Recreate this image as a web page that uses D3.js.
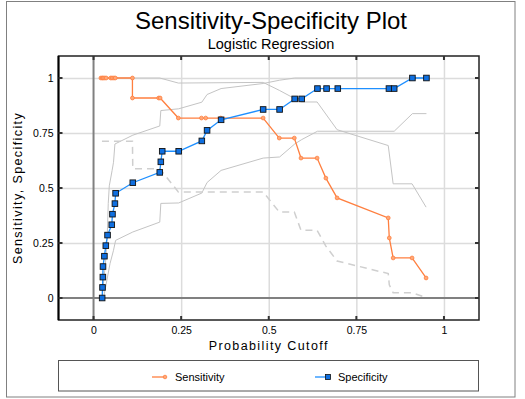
<!DOCTYPE html>
<html><head><meta charset="utf-8">
<script src="https://cdn.jsdelivr.net/npm/d3@7"></script>
<style>body{margin:0;background:#fff}svg{display:block}text{font-family:"Liberation Sans",Arial,sans-serif;fill:#000}</style>
</head><body><svg id="c" width="525" height="399"></svg>
<script>
// ---- data ----
const titleText = "Sensitivity-Specificity Plot";
const subtitleText = "Logistic Regression";
const xTitle = "Probability Cutoff";
const yTitle = "Sensitivity, Specificity";
const tickValues = [0, 0.25, 0.5, 0.75, 1];
const tickLabels = ["0", "0.25", "0.5", "0.75", "1"];
const seriesNames = ["Sensitivity", "Specificity"];

const sensX = [0.021, 0.025, 0.028, 0.032, 0.036, 0.049, 0.053, 0.058, 0.062, 0.111, 0.111, 0.186, 0.19, 0.242, 0.308, 0.32, 0.363, 0.484, 0.530, 0.573, 0.592, 0.638, 0.663, 0.695, 0.841, 0.844, 0.855, 0.909, 0.949];
const sensY = [1, 1, 1, 1, 1, 1, 1, 1, 1, 1, 0.909, 0.909, 0.909, 0.818, 0.818, 0.818, 0.818, 0.818, 0.727, 0.727, 0.636, 0.636, 0.545, 0.455, 0.364, 0.273, 0.182, 0.182, 0.091];

const specX = [0.0246, 0.0256, 0.0266, 0.027, 0.031, 0.035, 0.040, 0.052, 0.054, 0.061, 0.063, 0.112, 0.189, 0.192, 0.196, 0.243, 0.309, 0.324, 0.364, 0.484, 0.531, 0.574, 0.594, 0.639, 0.665, 0.697, 0.843, 0.858, 0.910, 0.950];
const specY = [0, 0.048, 0.095, 0.143, 0.19, 0.238, 0.286, 0.333, 0.381, 0.429, 0.476, 0.524, 0.571, 0.619, 0.667, 0.667, 0.714, 0.762, 0.81, 0.857, 0.857, 0.905, 0.905, 0.952, 0.952, 0.952, 0.952, 0.952, 1, 1];

// confidence bounds
const sensUpX = [0.021, 0.189, 0.242, 0.484, 0.530, 0.592, 0.638, 0.695, 0.841, 0.855, 0.909, 0.949];
const sensUpY = [1, 1, 0.977, 0.98, 0.944, 0.891, 0.891, 0.765, 0.693, 0.519, 0.519, 0.413];
const sensLoX = [0.024, 0.111, 0.112, 0.189, 0.242, 0.484, 0.530, 0.573, 0.592, 0.638, 0.663, 0.695, 0.841, 0.844, 0.855, 0.909, 0.949];
const sensLoY = [0.712, 0.712, 0.588, 0.588, 0.482, 0.482, 0.391, 0.391, 0.308, 0.308, 0.236, 0.168, 0.111, 0.06, 0.024, 0.024, 0.002];
const specUpX = [0.0246, 0.030, 0.034, 0.039, 0.042, 0.045, 0.053, 0.057, 0.061, 0.112, 0.189, 0.192, 0.243, 0.309, 0.324, 0.364, 0.484, 0.531, 0.574, 0.950];
const specUpY = [0, 0.096, 0.156, 0.277, 0.43, 0.51, 0.58, 0.617, 0.70, 0.74, 0.782, 0.852, 0.86, 0.89, 0.925, 0.952, 0.975, 0.99, 1, 1];
const specLoX = [0.0285, 0.038, 0.047, 0.057, 0.063, 0.112, 0.189, 0.192, 0.243, 0.309, 0.324, 0.364, 0.484, 0.531, 0.574, 0.594, 0.639, 0.697, 0.858, 0.910, 0.950];
const specLoY = [0, 0.08, 0.156, 0.217, 0.262, 0.30, 0.345, 0.43, 0.432, 0.477, 0.525, 0.58, 0.636, 0.641, 0.70, 0.72, 0.758, 0.758, 0.758, 0.838, 0.838];

// ---- layout ----
const P = {l: 58.5, r: 479, t: 56, b: 320};
const svg = d3.select("#c");
const x = d3.scaleLinear().domain([-0.1, 1.1]).range([P.l, P.r]);
const y = d3.scaleLinear().domain([-0.1, 1.1]).range([P.b, P.t]);
const zip = (a, b) => a.map((v, i) => [v, b[i]]);
const line = d3.line().x(d => x(d[0])).y(d => y(d[1]));

// outer frame
svg.append("rect").attr("x", 6.5).attr("y", 1.5).attr("width", 508.5).attr("height", 395.5)
  .attr("fill", "#fff").attr("stroke", "#808080").attr("stroke-width", 1);

// title
svg.append("text").attr("x", 271).attr("y", 29).attr("text-anchor", "middle")
  .attr("font-size", 24).text(titleText);
svg.append("text").attr("x", 271).attr("y", 48.5).attr("text-anchor", "middle")
  .attr("font-size", 14.5).text(subtitleText);

// grid
const gridVals = tickValues.filter(v => v !== 0);
svg.append("g").attr("transform", `translate(0,${P.b})`)
  .call(d3.axisBottom(x).tickValues(gridVals).tickSize(-(P.b - P.t)).tickFormat(""))
  .call(g => { g.select(".domain").remove(); g.selectAll("line").attr("stroke", "#dcdcdc").attr("stroke-width", 1.5); });
svg.append("g").attr("transform", `translate(${P.l},0)`)
  .call(d3.axisLeft(y).tickValues(gridVals).tickSize(-(P.r - P.l)).tickFormat(""))
  .call(g => { g.select(".domain").remove(); g.selectAll("line").attr("stroke", "#dcdcdc").attr("stroke-width", 1.5); });
// zero lines
svg.append("line").attr("x1", x(0)).attr("x2", x(0)).attr("y1", P.t).attr("y2", P.b)
  .attr("stroke", "#808080").attr("stroke-width", 2);
svg.append("line").attr("x1", P.l).attr("x2", P.r).attr("y1", y(0)).attr("y2", y(0))
  .attr("stroke", "#808080").attr("stroke-width", 2);

// confidence bounds
const ci = svg.append("g").attr("fill", "none");
ci.append("path").attr("d", line(zip(sensUpX, sensUpY))).attr("stroke", "#c4c4c4").attr("stroke-width", 1);
ci.append("path").attr("d", line(zip(specUpX, specUpY))).attr("stroke", "#c4c4c4").attr("stroke-width", 1);
ci.append("path").attr("d", line(zip(specLoX, specLoY))).attr("stroke", "#c4c4c4").attr("stroke-width", 1);
ci.append("path").attr("d", line(zip(sensLoX, sensLoY))).attr("stroke", "#cfcfcf").attr("stroke-width", 1.5)
  .attr("stroke-dasharray", "7,5");

// sensitivity
const sensCol = "#ff7f3f";
svg.append("path").attr("d", line(zip(sensX, sensY))).attr("fill", "none").attr("stroke", sensCol).attr("stroke-width", 1.3);
svg.append("g").selectAll("circle").data(zip(sensX, sensY)).join("circle")
  .attr("cx", d => x(d[0])).attr("cy", d => y(d[1])).attr("r", 1.9)
  .attr("fill", "#ffa878").attr("stroke", sensCol).attr("stroke-width", 0.8);

// specificity
const specCol = "#1e8fff";
svg.append("path").attr("d", line(zip(specX, specY))).attr("fill", "none").attr("stroke", specCol).attr("stroke-width", 1.3);
svg.append("g").selectAll("rect").data(zip(specX, specY)).join("rect")
  .attr("x", d => x(d[0]) - 2.8).attr("y", d => y(d[1]) - 2.8).attr("width", 5.6).attr("height", 5.6)
  .attr("fill", "#0f6fe0").attr("stroke", "#111").attr("stroke-width", 0.9);

// plot border
svg.append("rect").attr("x", P.l).attr("y", P.t).attr("width", P.r - P.l).attr("height", P.b - P.t)
  .attr("fill", "none").attr("stroke", "#222").attr("stroke-width", 1.5);
svg.append("line").attr("x1", P.l).attr("x2", P.l).attr("y1", P.t).attr("y2", P.b).attr("stroke", "#000").attr("stroke-width", 2);

// inner ticks on frame
const tk = svg.append("g").attr("stroke", "#333").attr("stroke-width", 2);
tickValues.forEach(v => {
  tk.append("line").attr("x1", x(v)).attr("x2", x(v)).attr("y1", P.t).attr("y2", P.t + 4);
  tk.append("line").attr("x1", x(v)).attr("x2", x(v)).attr("y1", P.b).attr("y2", P.b - 4);
  tk.append("line").attr("x1", P.l).attr("x2", P.l + 4).attr("y1", y(v)).attr("y2", y(v));
  tk.append("line").attr("x1", P.r).attr("x2", P.r - 4).attr("y1", y(v)).attr("y2", y(v));
});

// tick labels via axes
svg.append("g").attr("transform", `translate(0,${P.b})`)
  .call(d3.axisBottom(x).tickValues(tickValues).tickSize(0).tickPadding(7).tickFormat((d, i) => tickLabels[i]))
  .call(g => { g.select(".domain").remove(); g.selectAll("text").attr("font-size", 10.5).attr("font-family", null).attr("fill", "#000"); });
svg.append("g").attr("transform", `translate(${P.l},0)`)
  .call(d3.axisLeft(y).tickValues(tickValues).tickSize(0).tickPadding(5).tickFormat((d, i) => tickLabels[i]))
  .call(g => { g.select(".domain").remove(); g.selectAll("text").attr("font-size", 10.5).attr("font-family", null).attr("fill", "#000"); });

// axis titles
svg.append("text").attr("x", (P.l + P.r) / 2).attr("y", 350).attr("text-anchor", "middle")
  .attr("font-size", 12.5).attr("letter-spacing", 1.4).text(xTitle);
svg.append("text").attr("transform", `translate(22,${(P.t + P.b) / 2}) rotate(-90)`).attr("text-anchor", "middle")
  .attr("font-size", 12.5).attr("letter-spacing", 1.4).text(yTitle);

// legend
svg.append("rect").attr("x", 58.5).attr("y", 360.5).attr("width", 420).attr("height", 30.5)
  .attr("fill", "#fff").attr("stroke", "#555").attr("stroke-width", 1);
const ly = 377;
svg.append("line").attr("x1", 152).attr("x2", 165).attr("y1", ly).attr("y2", ly).attr("stroke", sensCol).attr("stroke-width", 1.3);
svg.append("circle").attr("cx", 165).attr("cy", ly).attr("r", 1.8).attr("fill", "#ffa878").attr("stroke", sensCol).attr("stroke-width", 0.8);
svg.append("text").attr("x", 175).attr("y", 381).attr("font-size", 11).text(seriesNames[0]);
svg.append("line").attr("x1", 315).attr("x2", 328).attr("y1", ly).attr("y2", ly).attr("stroke", specCol).attr("stroke-width", 1.3);
svg.append("rect").attr("x", 325.5).attr("y", ly - 2.5).attr("width", 5).attr("height", 5).attr("fill", "#0f6fe0").attr("stroke", "#111").attr("stroke-width", 0.8);
svg.append("text").attr("x", 338).attr("y", 381).attr("font-size", 11).text(seriesNames[1]);
</script></body></html>
